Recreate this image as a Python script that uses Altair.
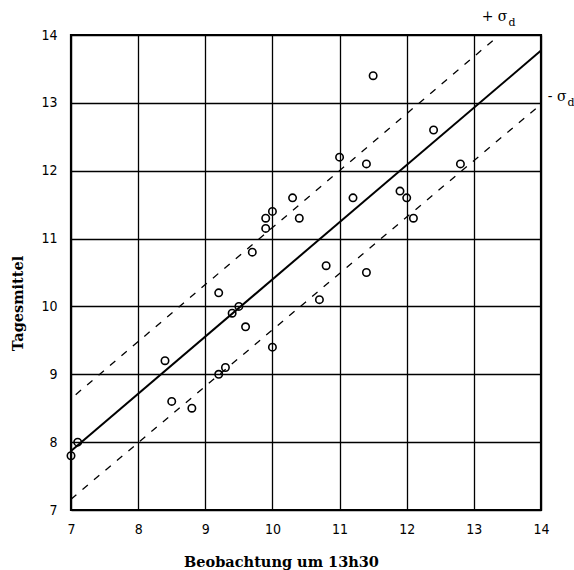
import altair as alt
import pandas as pd

# observed points (Beobachtung um 13h30, Tagesmittel)
obs_x = [7.0, 7.1, 8.4, 8.5, 8.8, 9.2, 9.3, 9.2, 9.4, 9.5, 9.6, 9.7, 9.9, 9.9, 10.0,
         10.0, 10.3, 10.4, 10.7, 10.8, 11.0, 11.2, 11.4, 11.4, 11.5, 11.9, 12.0, 12.1, 12.4, 12.8]
obs_y = [7.8, 8.0, 9.2, 8.6, 8.5, 9.0, 9.1, 10.2, 9.9, 10.0, 9.7, 10.8, 11.3, 11.15, 11.4,
         9.4, 11.6, 11.3, 10.1, 10.6, 12.2, 11.6, 12.1, 10.5, 13.4, 11.7, 11.6, 11.3, 12.6, 12.1]

# regression line and ± sigma_d lines (end points)
line_name = ["main", "main", "plus", "plus", "minus", "minus"]
line_x = [7.0, 14.0, 7.07, 13.38, 7.0, 14.0]
line_y = [7.87, 13.77, 8.70, 14.0, 7.16, 12.98]

ticks = [7, 8, 9, 10, 11, 12, 13, 14]

# annotation labels
ann_text = ["+ σ", "- σ"]
ann_x = [13.50, 14.38]
ann_y = [14.27, 13.08]

pts = pd.DataFrame({"x": obs_x, "y": obs_y})
lines = pd.DataFrame({"name": line_name, "x": line_x, "y": line_y})
ann = pd.DataFrame({"t": ann_text, "x": ann_x, "y": ann_y})

xs = alt.Scale(domain=[7, 14], nice=False, zero=False)
ys = alt.Scale(domain=[7, 14], nice=False, zero=False)

tick_font = "DejaVu Sans Condensed"
title_font = "DejaVu Serif"

x_axis = alt.Axis(values=ticks, format="d", title="Beobachtung um 13h30", ticks=False, domain=False,
                  grid=True, gridColor="black", gridWidth=1.3, gridOpacity=1,
                  labelFont=tick_font, labelFontSize=14, labelColor="black",
                  labelPadding=12, labelFlush=False,
                  titleFont=title_font, titleFontSize=14.5, titleFontWeight="bold",
                  titleColor="black", titleX=210, titleY=52, titleAnchor="middle",
                  titleAlign="center", titleBaseline="middle")
y_axis = alt.Axis(values=ticks, format="d", title="Tagesmittel", ticks=False, domain=False,
                  grid=True, gridColor="black", gridWidth=1.3, gridOpacity=1,
                  labelFont=tick_font, labelFontSize=14, labelColor="black",
                  labelPadding=14, labelFlush=False,
                  titleFont=title_font, titleFontSize=14.5, titleFontWeight="bold",
                  titleColor="black", titleX=-53, titleY=268, titleAngle=-90,
                  titleAlign="center", titleBaseline="middle")

points = alt.Chart(pts).mark_point(shape="circle", filled=False, size=55, color="black",
                                   strokeWidth=1.6, opacity=1, clip=False).encode(
    x=alt.X("x:Q", scale=xs, axis=x_axis),
    y=alt.Y("y:Q", scale=ys, axis=y_axis),
)

main = alt.Chart(lines).transform_filter(alt.datum.name == "main").mark_line(
    color="black", strokeWidth=2).encode(x=alt.X("x:Q", scale=xs), y=alt.Y("y:Q", scale=ys))

dashed = alt.Chart(lines).transform_filter(alt.datum.name != "main").mark_line(
    color="black", strokeWidth=1.3, strokeDash=[7, 8]).encode(
    x=alt.X("x:Q", scale=xs), y=alt.Y("y:Q", scale=ys), detail="name:N")

labels = alt.Chart(ann).mark_text(align="right", baseline="middle", font=title_font,
                                  fontSize=14, color="black", clip=False).encode(
    x=alt.X("x:Q", scale=xs), y=alt.Y("y:Q", scale=ys), text="t:N")

subs = alt.Chart(ann).mark_text(align="left", baseline="middle", font=title_font,
                                fontSize=11, color="black", dx=1, dy=6, clip=False).encode(
    x=alt.X("x:Q", scale=xs), y=alt.Y("y:Q", scale=ys), text=alt.value("d"))

chart = alt.layer(dashed, main, points, labels, subs).properties(
    width=470, height=475,
    autosize=alt.AutoSizeParams(type="none"),
    padding={"left": 71, "top": 35, "right": 33, "bottom": 60},
    background="white",
).configure_view(stroke="black", strokeWidth=2.2)

chart.save("out.html", embed_options={"renderer": "svg", "actions": False})
